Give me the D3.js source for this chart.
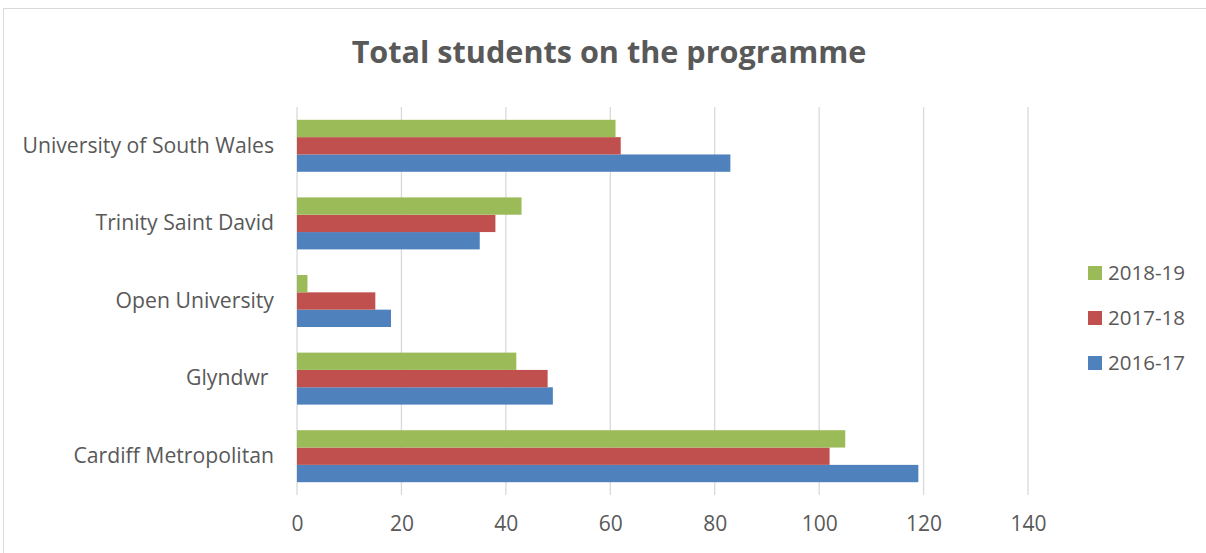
<!DOCTYPE html>
<html>
<head>
<meta charset="utf-8">
<script src="https://cdn.jsdelivr.net/npm/d3@7"></script>
<style>
  body { margin: 0; background: #fff; }
  svg text { font-family: "Open Sans", "Noto Sans", sans-serif; fill: #595959; white-space: pre; }
</style>
</head>
<body>
<svg id="chart" width="1206" height="553"></svg>
<script>
// categories, bottom to top as in the picture
const universities = ["Cardiff Metropolitan", "Glyndwr ", "Open University", "Trinity Saint David", "University of South Wales"]
const years = ["2016-17", "2017-18", "2018-19"]
const values2016 = [119, 49, 18, 35, 83]
const values2017 = [102, 48, 15, 38, 62]
const values2018 = [105, 42, 2, 43, 61]
const xTicks = [0, 20, 40, 60, 80, 100, 120, 140]

const seriesColors = { "2016-17": "#4F81BD", "2017-18": "#C0504D", "2018-19": "#9BBB59" }
const seriesValues = { "2016-17": values2016, "2017-18": values2017, "2018-19": values2018 }

const svg = d3.select("#chart")

// chart frame
svg.append("rect")
    .attr("x", 3.5).attr("y", 8.5)
    .attr("width", 1220).attr("height", 560)
    .attr("fill", "none").attr("stroke", "#d9d9d9")

// title
svg.append("text")
    .attr("x", 609).attr("y", 63)
    .attr("text-anchor", "middle")
    .style("font-size", "30.6px").style("font-weight", "bold")
    .text("Total students on the programme")

const plot = { left: 297, right: 1028, top: 107, bottom: 495 }

const x = d3.scaleLinear().domain([0, 140]).range([plot.left, plot.right])

// top category first on screen
const y = d3.scaleBand()
    .domain(universities.slice().reverse())
    .range([plot.top, plot.bottom])
    .paddingInner(0.33).paddingOuter(0.165)

// inner band: 2018-19 on top, 2016-17 at the bottom
const yInner = d3.scaleBand()
    .domain(years.slice().reverse())
    .range([0, y.bandwidth()])

// gridlines
svg.append("g")
    .selectAll("line")
    .data(xTicks)
    .join("line")
    .attr("x1", d => x(d)).attr("x2", d => x(d))
    .attr("y1", plot.top).attr("y2", plot.bottom)
    .attr("stroke", "#d9d9d9").attr("stroke-width", 1.3)

// bars
const groups = svg.append("g")
    .selectAll("g")
    .data(universities.map((u, i) => ({ u, i })))
    .join("g")
    .attr("transform", d => `translate(0,${y(d.u)})`)

groups.selectAll("rect")
    .data(d => years.map(yr => ({ yr, v: seriesValues[yr][d.i] })))
    .join("rect")
    .attr("x", x(0))
    .attr("y", d => yInner(d.yr))
    .attr("width", d => x(d.v) - x(0))
    .attr("height", yInner.bandwidth())
    .attr("fill", d => seriesColors[d.yr])

// x axis labels
const xAxis = svg.append("g")
    .attr("transform", `translate(0,${plot.bottom})`)
    .call(d3.axisBottom(x).tickValues(xTicks).tickSize(0).tickPadding(21))
xAxis.select(".domain").remove()
xAxis.selectAll("text").style("font-size", "21px").attr("fill", "#595959")

// category labels
const yAxis = svg.append("g")
    .attr("transform", `translate(${plot.left},0)`)
    .call(d3.axisLeft(y).tickSize(0).tickPadding(23))
yAxis.select(".domain").remove()
yAxis.selectAll("text").style("font-size", "21.2px").attr("fill", "#595959")

// legend
const legend = svg.append("g")
    .selectAll("g")
    .data(years.slice().reverse())
    .join("g")
    .attr("transform", (d, i) => `translate(1088,${273 + i * 45})`)

legend.append("rect")
    .attr("x", 0).attr("y", -7)
    .attr("width", 14).attr("height", 14)
    .attr("fill", d => seriesColors[d])

legend.append("text")
    .attr("x", 20).attr("dy", "0.35em")
    .style("font-size", "20.5px")
    .text(d => d)
</script>
</body>
</html>
